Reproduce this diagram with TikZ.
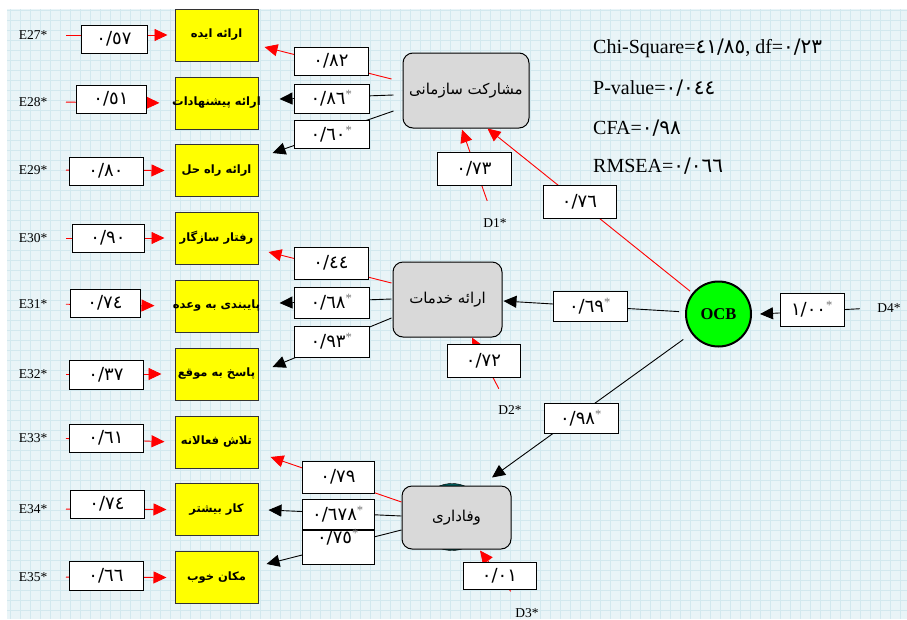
\documentclass[tikz,border=0pt]{standalone}
\usepackage{fontspec}
\usepackage{tikz}
\usetikzlibrary{positioning,arrows.meta,calc}
\setmainfont{Liberation Serif}
\newfontfamily\arabicfont[Script=Arabic]{DejaVu Sans}
\TeXXeTstate=1
\newcommand{\fa}[1]{{\arabicfont\beginR #1\endR}}
\newcommand{\adad}[1]{{\arabicfont #1}}
\newcommand{\sig}{\textsuperscript{\textcolor{black!55}{*}}}

\begin{document}
\begin{tikzpicture}[x=1pt,y=-1pt,
    ind/.style={draw=black!80, line width=1pt, fill=indyellow, minimum width=83pt, minimum height=52pt, inner sep=1pt, font=\bfseries\fontsize{11.5}{14}\selectfont},
    lat/.style={draw, line width=1pt, rounded corners=10pt, fill=latgray, inner sep=1pt, font=\fontsize{15}{17}\selectfont},
    coef/.style={draw, line width=1pt, fill=white, inner sep=0pt, font=\fontsize{18}{20}\selectfont},
    errlab/.style={font=\fontsize{13.5}{15}\selectfont},
    fit/.style={anchor=west, inner sep=0pt, font=\fontsize{20}{24}\selectfont},
    redarr/.style={draw=red, line width=0.9pt, -{Triangle[length=13pt,width=12pt,fill=red]}},
    blkarr/.style={draw=black, line width=0.9pt, -{Triangle[length=13pt,width=12pt]}}]
    % colours of the original drawing
    \definecolor{indyellow}{HTML}{FFFF00}
    \definecolor{latgray}{HTML}{D9D9D9}
    \definecolor{ocbgreen}{HTML}{00FF00}
    \definecolor{paper}{HTML}{E9F4F7}
    \definecolor{paperline}{HTML}{D2E8EE}
    \useasboundingbox (0,0) rectangle (907,619);
    % grid paper
    \fill[paper] (7,9) rectangle (907,619);
    \draw[paperline, line width=0.5pt, step=10pt] (7,9) grid (907,619);

    % observed variables
    \node[ind] (i1) at (216.5,35) {\fa{ارائه ایده}};
    \node[ind] (i2) at (216.5,103) {\makebox[0pt]{\fa{ارائه پیشنهادات}}};
    \node[ind] (i3) at (216.5,170.5) {\fa{ارائه راه حل}};
    \node[ind] (i4) at (216.5,238) {\fa{رفتار سازگار}};
    \node[ind] (i5) at (216.5,306) {\makebox[0pt]{\fa{پایبندی به وعده}}};
    \node[ind] (i6) at (216.5,374) {\fa{پاسخ به موقع}};
    \node[ind] (i7) at (216.5,442) {\fa{تلاش فعالانه}};
    \node[ind] (i8) at (216.5,509.5) {\fa{کار بیشتر}};
    \node[ind] (i9) at (216.5,577.5) {\fa{مکان خوب}};

    % error terms
    \node[errlab, anchor=east] (e27) at (51,35) {E27*};
    \node[errlab, anchor=east] (e28) at (51,102) {E28*};
    \node[errlab, anchor=east] (e29) at (51,170) {E29*};
    \node[errlab, anchor=east] (e30) at (51,238) {E30*};
    \node[errlab, anchor=east] (e31) at (51,304) {E31*};
    \node[errlab, anchor=east] (e32) at (51,374) {E32*};
    \node[errlab, anchor=east] (e33) at (51,438) {E33*};
    \node[errlab, anchor=east] (e34) at (51,509) {E34*};
    \node[errlab, anchor=east] (e35) at (51,577) {E35*};

    % latent variables
    \node[fill=teal!70!black, draw, circle, minimum size=67pt] (f3c) at (452,517) {};
    \node[lat, minimum width=126pt, minimum height=75pt] (f1) at (466,90.5) {\fa{مشارکت سازمانی}};
    \node[lat, minimum width=109pt, minimum height=75pt] (f2) at (447.5,299.5) {\fa{ارائه خدمات}};
    \node[lat, minimum width=109pt, minimum height=63pt] (f3) at (456.5,517.5) {\fa{وفاداری}};
    \node[draw, line width=2pt, circle, fill=ocbgreen, minimum size=65pt, inner sep=0pt, font=\bfseries\fontsize{16.5}{18}\selectfont] (ocb) at (718.5,314) {OCB};

    % disturbances
    \node[errlab] (d1) at (495,223) {D1*};
    \node[errlab] (d2) at (510,410) {D2*};
    \node[errlab] (d3) at (527,613) {D3*};
    \node[errlab] (d4) at (889,308) {D4*};

    % fit indices
    \node[fit] (chi) at (593,48) {Chi-Square=\adad{٤١/٨٥}, df=\adad{٠/٢٣}};
    \node[fit] (pval) at (593,88) {P-value=\adad{٠/٠٤٤}};
    \node[fit] (cfa) at (593,128) {CFA=\adad{٠/٩٨}};
    \node[fit] (rmsea) at (593,166) {RMSEA=\adad{٠/٠٦٦}};

    % error paths
    \draw[redarr, shorten <=15pt, shorten >=7pt] (e27.east) -- (i1.west);
    \draw[redarr, shorten <=15pt, shorten >=15pt] (e28.east) -- (i2.west);
    \draw[redarr, shorten <=15pt, shorten >=10pt] (e29.east) -- (i3.west);
    \draw[redarr, shorten <=15pt, shorten >=10pt] (e30.east) -- (i4.west);
    \draw[redarr, shorten <=15pt, shorten >=20pt] (e31.east) -- (i5.west);
    \draw[redarr, shorten <=15pt, shorten >=13pt] (e32.east) -- (i6.west);
    \draw[redarr, shorten <=15pt, shorten >=10pt] (e33.east) -- (i7.west);
    \draw[redarr, shorten <=15pt, shorten >=8pt] (e34.east) -- (i8.west);
    \draw[redarr, shorten <=15pt, shorten >=8pt] (e35.east) -- (i9.west);

    % loadings
    \draw[redarr] ($(f1.west)+(-11,-11.5)$) -- ($(i1.east)+(6,12)$);
    \draw[blkarr] ($(f1.west)+(-9,4.5)$) -- ($(i2.east)+(21,-4)$);
    \draw[blkarr] ($(f1.west)+(-9,20.5)$) -- ($(i3.east)+(14,-17.5)$);
    \draw[redarr] ($(f2.west)+(-1,-16.5)$) -- ($(i4.east)+(10,14)$);
    \draw[blkarr] ($(f2.west)+(-1,-0.5)$) -- ($(i5.east)+(21,-3)$);
    \draw[blkarr] ($(f2.west)+(-1,18.5)$) -- ($(i6.east)+(14,-7)$);
    \draw[redarr] ($(f3.west)+(0,-15.5)$) -- ($(i7.east)+(12,15)$);
    \draw[blkarr] ($(f3.west)+(0,-1.5)$) -- ($(i8.east)+(10,0.5)$);
    \draw[blkarr] ($(f3.west)+(0,12.5)$) -- ($(i9.east)+(8,-13.5)$);

    % structural paths
    \draw[redarr, shorten <=15pt] (d1) -- ($(f1.south)+(-4,1)$);
    \draw[redarr, shorten <=15pt] (d2) -- ($(f2.south)+(24.5,0)$);
    \draw[redarr, shorten <=17pt] (d3) -- ($(f3.south)+(23.5,1)$);
    \draw[blkarr, shorten <=14pt] (d4.west) -- ($(ocb.east)+(8,0)$);
    \draw[redarr, shorten <=3pt] (ocb) -- ($(f1.south east)+(-42,0)$);
    \draw[blkarr, shorten <=6pt] (ocb) -- ($(f2.east)+(1,1.5)$);
    \draw[blkarr, shorten <=10pt] (ocb) -- ($(f3.north)+(35.5,-8)$);

    % coefficients
    \node[coef, minimum width=66pt, minimum height=28pt] (c27) at (114,39) {\adad{٠/٥٧}};
    \node[coef, minimum width=70pt, minimum height=28pt] (c28) at (111,99) {\adad{٠/٥١}};
    \node[coef, minimum width=74pt, minimum height=28pt] (c29) at (106,171) {\adad{٠/٨٠}};
    \node[coef, minimum width=72pt, minimum height=28pt] (c30) at (108,238) {\adad{٠/٩٠}};
    \node[coef, minimum width=70pt, minimum height=28pt] (c31) at (105,303) {\adad{٠/٧٤}};
    \node[coef, minimum width=74pt, minimum height=29pt] (c32) at (106,374.5) {\adad{٠/٣٧}};
    \node[coef, minimum width=74pt, minimum height=28pt] (c33) at (106,438) {\adad{٠/٦١}};
    \node[coef, minimum width=74pt, minimum height=28pt] (c34) at (107,504) {\adad{٠/٧٤}};
    \node[coef, minimum width=74pt, minimum height=29pt] (c35) at (106,575.5) {\adad{٠/٦٦}};

    \node[coef, minimum width=74pt, minimum height=28pt] (l1) at (331,61) {\adad{٠/٨٢}};
    \node[coef, minimum width=75pt, minimum height=29pt] (l2) at (331.5,98.5) {\adad{٠/٨٦}\sig};
    \node[coef, minimum width=75pt, minimum height=28pt] (l3) at (331.5,134) {\adad{٠/٦٠}\sig};
    \node[coef, minimum width=74pt, minimum height=32pt] (l4) at (331,263) {\adad{٠/٤٤}};
    \node[coef, minimum width=75pt, minimum height=31pt] (l5) at (331.5,302.5) {\adad{٠/٦٨}\sig};
    \node[coef, minimum width=75pt, minimum height=31pt] (l6) at (331.5,341.5) {\adad{٠/٩٣}\sig};
    \node[coef, minimum width=72pt, minimum height=32pt] (l7) at (338,477) {\adad{٠/٧٩}};
    \node[coef, minimum width=72pt, minimum height=30pt] (l8) at (338,514) {\adad{٠/٦٧٨}\sig};
    \node[coef, minimum width=72pt, text height=13pt, text depth=21pt, anchor=north] (l9) at (338,530) {\adad{٠/٧٥}\sig};

    \node[coef, minimum width=74pt, minimum height=33pt] (z1) at (474,168.5) {\adad{٠/٧٣}};
    \node[coef, minimum width=73pt, minimum height=33pt] (z2) at (483.5,360.5) {\adad{٠/٧٢}};
    \node[coef, minimum width=73pt, minimum height=27pt] (z3) at (499.5,575.5) {\adad{٠/٠١}};

    \node[coef, minimum width=73pt, minimum height=33pt] (g1) at (579.5,201.5) {\adad{٠/٧٦}};
    \node[coef, minimum width=74pt, minimum height=30pt] (g2) at (590,306) {\adad{٠/٦٩}\sig};
    \node[coef, minimum width=74pt, minimum height=30pt] (g3) at (581,418) {\adad{٠/٩٨}\sig};
    \node[coef, minimum width=64pt, minimum height=33pt] (g4) at (812,309.5) {\adad{١/٠٠}\sig};
\end{tikzpicture}
\end{document}
